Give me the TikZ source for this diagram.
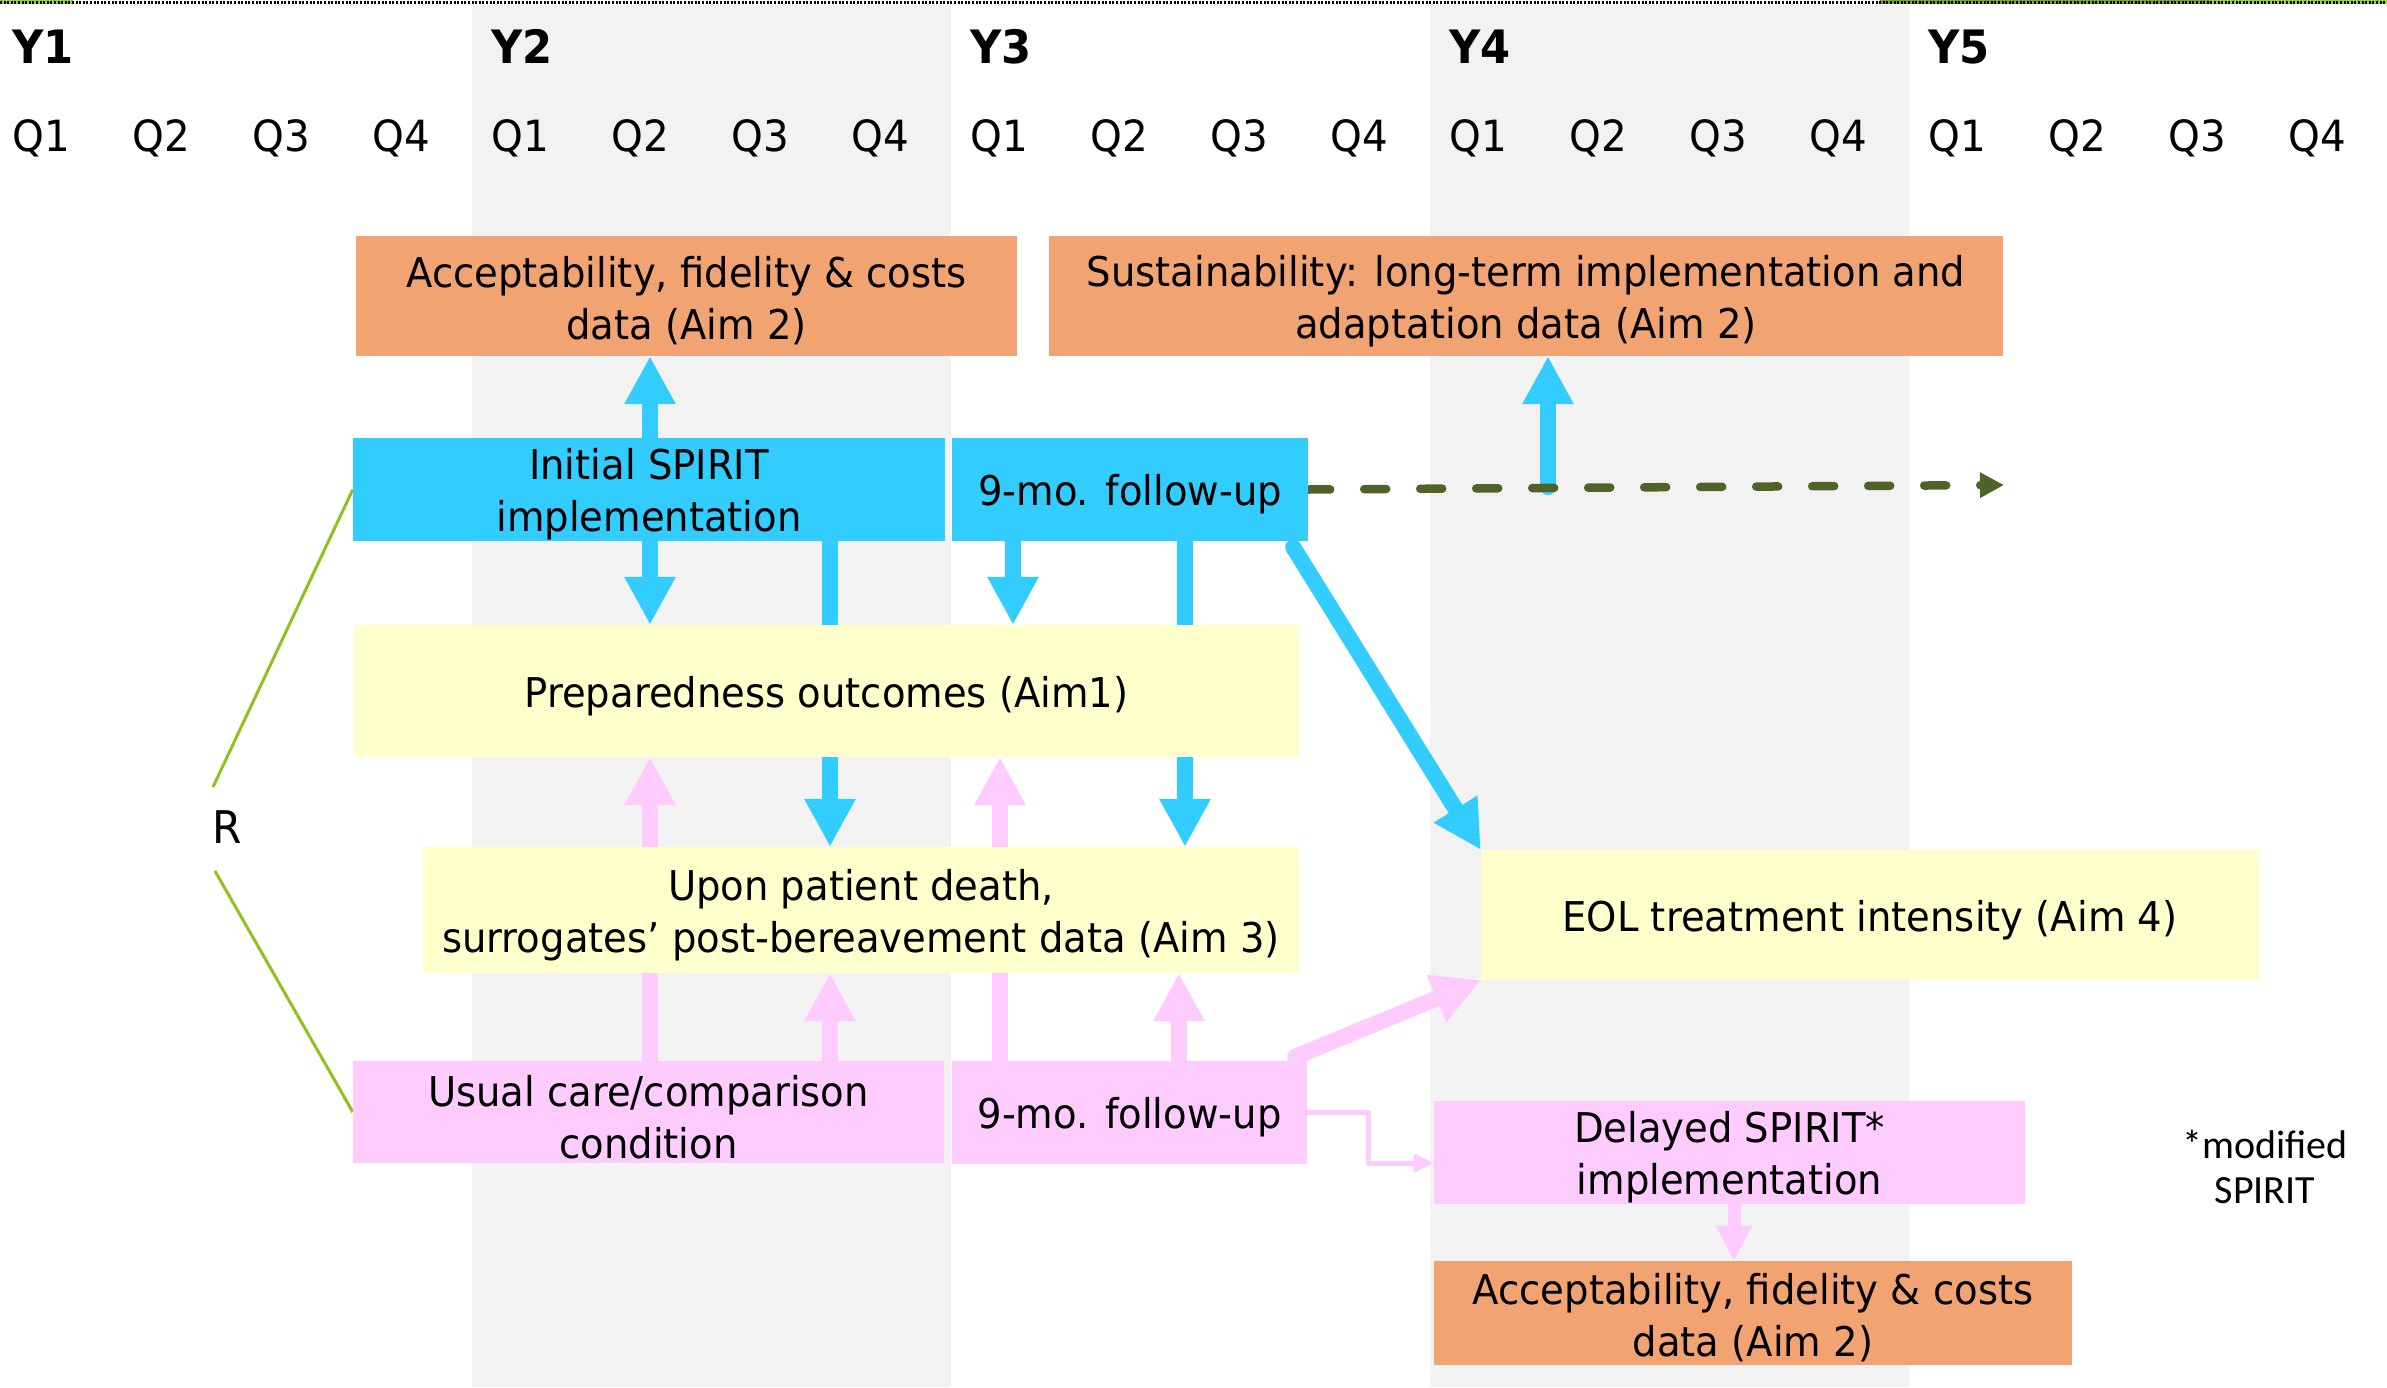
\documentclass[tikz,border=0pt]{standalone}
\usepackage{fontspec}
\setmainfont{DejaVu Sans}[FakeStretch=0.94]
\newfontfamily\carl{Carlito}
\usetikzlibrary{arrows.meta,calc}
\definecolor{cblue}{HTML}{33CCFF}
\definecolor{cpink}{HTML}{FDCBFD}
\definecolor{cyell}{HTML}{FFFFCC}
\definecolor{corange}{HTML}{F1A472}
\definecolor{cgray}{HTML}{F2F2F2}
\definecolor{cdkgreen}{HTML}{4F6228}
\definecolor{crline}{HTML}{92C01F}
\definecolor{cbarA}{HTML}{92D050}
\definecolor{cbarB}{HTML}{76A33C}
\pgfdeclarelayer{stripes}
\pgfdeclarelayer{arrows}
\pgfsetlayers{stripes,arrows,main}
\newcommand\bx[7]{\node[#6, minimum width={(#4-#2)*1pt}, minimum height={(#5-#3)*1pt}] (#1) at ({(#2+#4)/2},{(#3+#5)/2}) {};
  \node[boxtext] (#1t) at ($(#1.center)+(0,5)$) {#7};}
\begin{document}
\begin{tikzpicture}[x=1pt,y=-1pt,
  boxbase/.style={inner sep=0pt},
  boxtext/.style={inner sep=0pt, align=center, font=\fontsize{41}{52}\selectfont},
  orangebox/.style={boxbase, fill=corange},
  bluebox/.style={boxbase, fill=cblue},
  yellowbox/.style={boxbase, fill=cyell},
  pinkbox/.style={boxbase, fill=cpink},
  yearlbl/.style={anchor=base west, inner sep=0pt, font=\fontsize{46}{50}\selectfont\bfseries},
  qlbl/.style={anchor=base west, inner sep=0pt, font=\fontsize{43}{50}\selectfont},
  barrow/.style={draw=cblue, line width=16pt, -{Triangle[length=48pt,width=48pt]}},
  parrow/.style={draw=cpink, line width=16pt, -{Triangle[length=48pt,width=48pt]}},
  rline/.style={draw=crline, line width=3pt}
]
\useasboundingbox (0,0) rectangle (2387,1387);

% background stripes and top bar
\begin{pgfonlayer}{stripes}
\fill[white] (0,0) rectangle (2387,1387);
\fill[cgray] (472,5) rectangle (951,1387);
\fill[cgray] (1430,5) rectangle (1909,1387);
\fill[cbarA] (0,0) rectangle (73,4);
\fill[cbarB] (1880,0) rectangle (2210,4);
\fill[cbarA] (2210,0) rectangle (2387,4);
\draw[black, line width=3pt, dash pattern=on 2pt off 1.6pt] (0,2) -- (2387,2);
\end{pgfonlayer}

% year and quarter labels
\foreach \k/\yr in {0/Y1,1/Y2,2/Y3,3/Y4,4/Y5}{
  \node[yearlbl] (yl\k) at ({-7+479*\k+19},63) {\yr};
  \foreach \q in {1,2,3,4}{
    \node[qlbl] (ql\k\q) at ({-7+479*\k+19+120*(\q-1)},151) {Q\q};
  }
}

% boxes
\bx{orat}{356}{236}{1017}{356}{orangebox}{Acceptability, fidelity \& costs\\data (Aim 2)}
\bx{orar}{1049}{236}{2003}{356}{orangebox}{Sustainability: long-term implementation and\\adaptation data (Aim 2)}
\bx{init}{353}{438}{945}{541}{bluebox}{Initial SPIRIT\\implementation}
\bx{fub}{952}{438}{1308}{541}{bluebox}{9-mo. follow-up}
\bx{prep}{354}{625}{1299}{757}{yellowbox}{Preparedness outcomes (Aim1)}
\bx{death}{423}{847}{1299}{973}{yellowbox}{Upon patient death,\\surrogates’ post-bereavement data (Aim 3)}
\bx{eol}{1481}{850}{2259}{980}{yellowbox}{EOL treatment intensity (Aim 4)}
\bx{usual}{353}{1061}{944}{1163}{pinkbox}{Usual care/comparison\\condition}
\bx{fup}{952}{1061}{1307}{1164}{pinkbox}{9-mo. follow-up}
\bx{del}{1434}{1101}{2025}{1204}{pinkbox}{Delayed SPIRIT*\\implementation}
\bx{orab}{1434}{1261}{2072}{1365}{orangebox}{Acceptability, fidelity \& costs\\data (Aim 2)}

\node[inner sep=0pt, font=\fontsize{45}{50}\selectfont] (R) at (227,827) {R};
\node[inner sep=0pt, align=center, font=\carl\fontsize{40}{45}\selectfont] (note) at (2265,1167) {*modified\\SPIRIT};

% x positions for connectors
\coordinate (xa) at (650,0);
\coordinate (xb) at (830,0);
\coordinate (xc) at (1013,0);
\coordinate (xd) at (1185,0);
\coordinate (xe) at (1000,0);
\coordinate (xf) at (1179,0);
\coordinate (xg) at (1734,0);
\coordinate (dj) at (1548,487);
\coordinate (dend) at (2004,485);
\coordinate (r1) at (213,787);
\coordinate (r2) at (215,871);

\begin{pgfonlayer}{arrows}
% blue arrows
\draw[barrow] (init.north -| xa) -- (orat.south -| xa);
\draw[barrow] (init.south -| xa) -- (prep.north -| xa);
\draw[barrow] (init.south -| xb) -- (death.north -| xb);
\draw[barrow] (fub.south -| xc) -- (prep.north -| xc);
\draw[barrow] (fub.south -| xd) -- (death.north -| xd);
\draw[barrow, line cap=round] ($(fub.south east)+(-15,6)$) -- (eol.north west);
\draw[barrow, line cap=round] (dj) -- (orar.south -| dj);
% dashed continuation
\draw[draw=cdkgreen, line width=8.5pt, line cap=round, dash pattern=on 22pt off 34pt, -{Triangle[length=24pt,width=24pt]}] (fub.east) -- (dend);
% pink arrows
\draw[parrow] (usual.north -| xa) -- (prep.south -| xa);
\draw[parrow] (usual.north -| xb) -- (death.south -| xb);
\draw[parrow] (fup.north -| xe) -- (prep.south -| xe);
\draw[parrow] (fup.north -| xf) -- (death.south -| xf);
\draw[parrow, line cap=round] ($(fup.north east)+(-12,-4)$) -- (eol.south west);
\draw[draw=cpink, line width=5pt, line join=round, -{Triangle[length=20pt,width=18pt]}] (fup.east) -- ++(61,0) |- ($(del.west)+(0,10.5)$);
\draw[draw=cpink, line width=13pt, -{Triangle[length=35pt,width=34pt]}] (del.south -| xg) -- (orab.north -| xg);
% randomisation lines
\draw[rline] (r1) -- (init.west);
\draw[rline] (r2) -- (usual.west);
\end{pgfonlayer}
\end{tikzpicture}
\end{document}
